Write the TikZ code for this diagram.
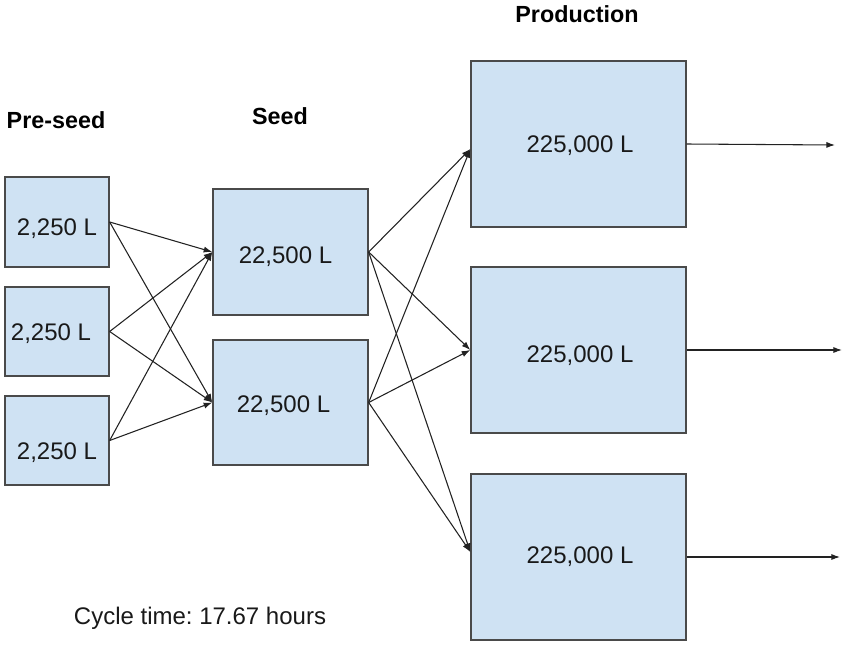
\documentclass[tikz,border=0pt]{standalone}
\usepackage{fontspec}
\setmainfont{Liberation Sans}
\usetikzlibrary{arrows.meta}
\definecolor{tankfill}{HTML}{CFE2F3}
\definecolor{tankline}{HTML}{4A4A4A}
\definecolor{flowline}{HTML}{222222}
\frenchspacing
\begin{document}
\begin{tikzpicture}[x=0.75pt,y=-0.75pt,
  tank/.style={draw=tankline,fill=tankfill,line width=1pt,inner sep=0pt,
    minimum width=#1*0.75pt},
  amount/.style={anchor=base,inner sep=0pt,font=\fontsize{18pt}{21pt}\selectfont,text=black!90},
  stage/.style={anchor=base,inner sep=0pt,font=\fontsize{17.5pt}{21pt}\selectfont\bfseries},
  flow/.style={draw=flowline,line width=0.8pt,-{Latex[length=6.5pt,width=4.6pt]}}]
\useasboundingbox (0,0) rectangle (843,646);

% stage headings
\node[stage] (hpre)  at (56,128)  {Pre-seed};
\node[stage] (hseed) at (280,124) {Seed};
\node[stage] (hprod) at (577,22)  {Production};

% pre-seed tanks
\node[tank=104,minimum height=67.5pt]  (pre1) at (57,222)   {};
\node[tank=104,minimum height=66.75pt] (pre2) at (57,331.5) {};
\node[tank=104,minimum height=66.75pt] (pre3) at (57,440.5) {};
\node[amount] (pre1t) at (57,235) {2,250 L};
\node[amount] (pre2t) at (51,340) {2,250 L};
\node[amount] (pre3t) at (57,459) {2,250 L};

% seed tanks
\node[tank=155,minimum height=94.5pt]  (seed1) at (290.5,252)   {};
\node[tank=155,minimum height=93.75pt] (seed2) at (290.5,402.5) {};
\node[amount] (seed1t) at (285.5,263) {22,500 L};
\node[amount] (seed2t) at (283.5,412) {22,500 L};

% production tanks
\node[tank=215,minimum height=124.5pt] (prod1) at (578.5,144) {};
\node[tank=215,minimum height=124.5pt] (prod2) at (578.5,350) {};
\node[tank=215,minimum height=124.5pt] (prod3) at (578.5,557) {};
\node[amount] (prod1t) at (580,152) {225,000 L};
\node[amount] (prod2t) at (580,362) {225,000 L};
\node[amount] (prod3t) at (580,563) {225,000 L};

% cycle time note
\node[amount] (cycle) at (200,624) {Cycle time: 17.67 hours};

% pre-seed to seed transfers
\foreach \p in {pre1,pre2,pre3}
  \foreach \s in {seed1,seed2}
    \draw[flow] (\p.east) -- (\s.west);

% seed to production transfers
\foreach \s in {seed1,seed2}{
  \draw[flow] (\s.east) -- ([yshift=-3.75pt]prod1.west);
  \draw[flow] (\s.east) -- (prod2.west);
  \draw[flow] (\s.east) -- ([yshift=3.75pt]prod3.west);
}

% production outputs
\coordinate (out1) at (835,145);
\coordinate (out2) at (842,350);
\coordinate (out3) at (840,557);
\draw[flow] (prod1.east) -- (out1);
\draw[flow] (prod2.east) -- (out2);
\draw[flow] (prod3.east) -- (out3);
\end{tikzpicture}
\end{document}
